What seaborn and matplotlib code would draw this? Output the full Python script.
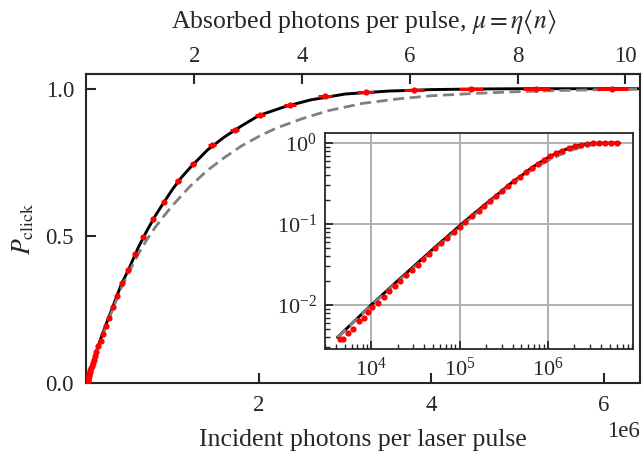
import numpy as np
import pandas as pd
import matplotlib
matplotlib.use("Agg")
import matplotlib.pyplot as plt
import seaborn as sns
from matplotlib.ticker import LogLocator, NullFormatter, FormatStrFormatter

# ---------------- data ----------------
incident = [4.46e3, 4.85e3, 5.44e3, 6.2e3, 7.2e3, 8.2e3, 9.2e3, 1.035e4, 1.21e4, 1.38e4,
            1.6e4, 1.87e4, 2.13e4, 2.49e4, 2.88e4, 3.37e4, 3.91e4, 4.54e4, 5.3e4, 6.2e4,
            7.3e4, 8.55e4, 1.0e5, 1.16e5, 1.38e5, 1.64e5, 1.9e5, 2.23e5, 2.58e5, 3.02e5,
            3.5e5, 4.1e5, 4.83e5, 5.6e5, 6.6e5, 7.7e5, 9.0e5, 1.06e6, 1.238e6, 1.459e6,
            1.718e6, 2.01e6, 2.36e6, 2.765e6, 3.24e6, 3.8e6, 4.46e6, 5.22e6, 6.1e6]
p_click = [0.00377, 0.0038, 0.00455, 0.00506, 0.0063, 0.0069, 0.0081, 0.0094, 0.0107, 0.0127,
           0.0148, 0.0173, 0.0200, 0.0234, 0.027, 0.0315, 0.0366, 0.043, 0.050, 0.058,
           0.068, 0.0795, 0.0926, 0.107, 0.125, 0.143, 0.168, 0.193, 0.221, 0.257,
           0.295, 0.339, 0.383, 0.437, 0.496, 0.556, 0.615, 0.685, 0.744, 0.808,
           0.860, 0.911, 0.945, 0.974, 0.990, 0.997, 1.0, 1.0, 1.0]
x_rel_err = 0.03

fit_n = [0, 4.16e3, 1e4, 2e4, 5e4, 1e5, 1.5e5, 2e5, 2.5e5, 3e5, 4e5, 5e5, 6e5, 7e5, 8e5,
         9e5, 1.0e6, 1.1e6, 1.2e6, 1.4e6, 1.6e6, 1.8e6, 2.0e6, 2.3e6, 2.6e6, 3.0e6, 3.5e6,
         4.0e6, 4.5e6, 5.0e6, 5.5e6, 6.0e6, 6.5e6]
fit_p = [0, 0.0040, 0.0100, 0.0200, 0.049, 0.095, 0.138, 0.178, 0.217, 0.255, 0.332, 0.393,
         0.460, 0.517, 0.569, 0.615, 0.659, 0.698, 0.731, 0.791, 0.836, 0.874, 0.909, 0.939,
         0.962, 0.982, 0.992, 0.997, 0.999, 1.0, 1.0, 1.0, 1.0]

lin_n = [0, 4.16e3, 1e4, 2e4, 5e4, 1e5, 1.5e5, 2e5, 2.5e5, 3e5, 4e5, 5e5, 6e5, 7e5, 8e5,
         9e5, 1.0e6, 1.2e6, 1.4e6, 1.6e6, 1.8e6, 2.0e6, 2.2e6, 2.5e6, 2.8e6, 3.2e6, 3.6e6,
         4.0e6, 4.5e6, 5.0e6, 5.5e6, 6.0e6, 6.5e6]
lin_p = [0, 0.0040, 0.0099, 0.0196, 0.047, 0.091, 0.132, 0.171, 0.210, 0.247, 0.320, 0.381,
         0.438, 0.487, 0.530, 0.568, 0.604, 0.668, 0.722, 0.766, 0.806, 0.838, 0.866, 0.898,
         0.925, 0.950, 0.965, 0.976, 0.984, 0.990, 0.994, 0.997, 0.999]

eta = 1.6e-6
x_ticks = [2e6, 4e6, 6e6]
y_ticks = [0.0, 0.5, 1.0]
mu_ticks = [2, 4, 6, 8, 10]

meas = pd.DataFrame({"n": incident, "p": p_click})
fit = pd.DataFrame({"n": fit_n, "p": fit_p})
lin = pd.DataFrame({"n": lin_n, "p": lin_p})

# ---------------- style ----------------
sns.set_theme(style="ticks")
plt.rcParams['font.family'] = ['Liberation Serif', 'DejaVu Serif']
plt.rcParams['mathtext.fontset'] = 'stix'
for k in ['axes.edgecolor', 'xtick.color', 'ytick.color', 'text.color', 'axes.labelcolor']:
    plt.rcParams[k] = '#262626'

TICK_FS = 16.5
LABEL_FS = 18.5

fig = plt.figure(figsize=(6.42, 4.51), dpi=100)
ax = fig.add_axes([0.1347, 0.1508, 0.8621, 0.6851])


def draw(a, f, l, m):
    sns.lineplot(data=f, x="n", y="p", ax=a, color="black", lw=2.1, zorder=2)
    sns.lineplot(data=l, x="n", y="p", ax=a, color="#808080", lw=2.0,
                 linestyle=(0, (4, 2)), zorder=3)
    a.errorbar(m["n"], m["p"], xerr=m["n"] * x_rel_err, fmt="none",
               ecolor="red", elinewidth=2.2, capsize=0, zorder=4)
    sns.scatterplot(data=m, x="n", y="p", ax=a, color="red", s=20,
                    linewidth=0, zorder=5)


draw(ax, fit, lin, meas)
ax.set_xlim(0, 6.42e6)
ax.set_ylim(0, 1.05)
ax.set_xticks(x_ticks)
ax.set_yticks(y_ticks)
ax.yaxis.set_major_formatter(FormatStrFormatter("%.1f"))
ax.tick_params(direction="in", length=7, width=1.5, labelsize=TICK_FS, pad=9)
ax.xaxis.get_offset_text().set_fontsize(TICK_FS)
for s in ax.spines.values():
    s.set_linewidth(1.5)
ax.set_xlabel("Incident photons per laser pulse", fontsize=LABEL_FS, labelpad=9)
ax.set_ylabel(r"$P_\mathrm{click}$", fontsize=LABEL_FS, labelpad=7)

sec = ax.secondary_xaxis("top", functions=(lambda x: x * eta, lambda m: m / eta))
sec.set_xticks(mu_ticks)
sec.tick_params(direction="in", length=7, width=1.5, labelsize=TICK_FS, pad=5)
sec.set_xlabel(r"Absorbed photons per pulse, $\mu = \eta\langle n\rangle$",
               fontsize=LABEL_FS, labelpad=13)
sec.spines["top"].set_linewidth(1.5)

# ---------------- inset ----------------
axi = fig.add_axes([0.5062, 0.2262, 0.4798, 0.4789])
draw(axi, fit.iloc[1:], lin.iloc[1:], meas)
axi.set_xscale("log")
axi.set_yscale("log")
axi.set_xlim(3.0e3, 9.2e6)
axi.set_ylim(2.87e-3, 1.33)
axi.set_xlabel("")
axi.set_ylabel("")
axi.grid(True, which="major", color="#b0b0b0", lw=1.4)
axi.set_axisbelow(True)
axi.xaxis.set_minor_locator(LogLocator(base=10, subs=np.arange(2, 10), numticks=20))
axi.yaxis.set_minor_locator(LogLocator(base=10, subs=np.arange(2, 10), numticks=20))
axi.xaxis.set_minor_formatter(NullFormatter())
axi.yaxis.set_minor_formatter(NullFormatter())
axi.tick_params(which="major", direction="in", length=6, width=1.3, labelsize=16, pad=6)
axi.tick_params(which="minor", direction="in", length=3.5, width=1.0)
for s in axi.spines.values():
    s.set_linewidth(1.3)

fig.savefig("out.png", dpi=100)
